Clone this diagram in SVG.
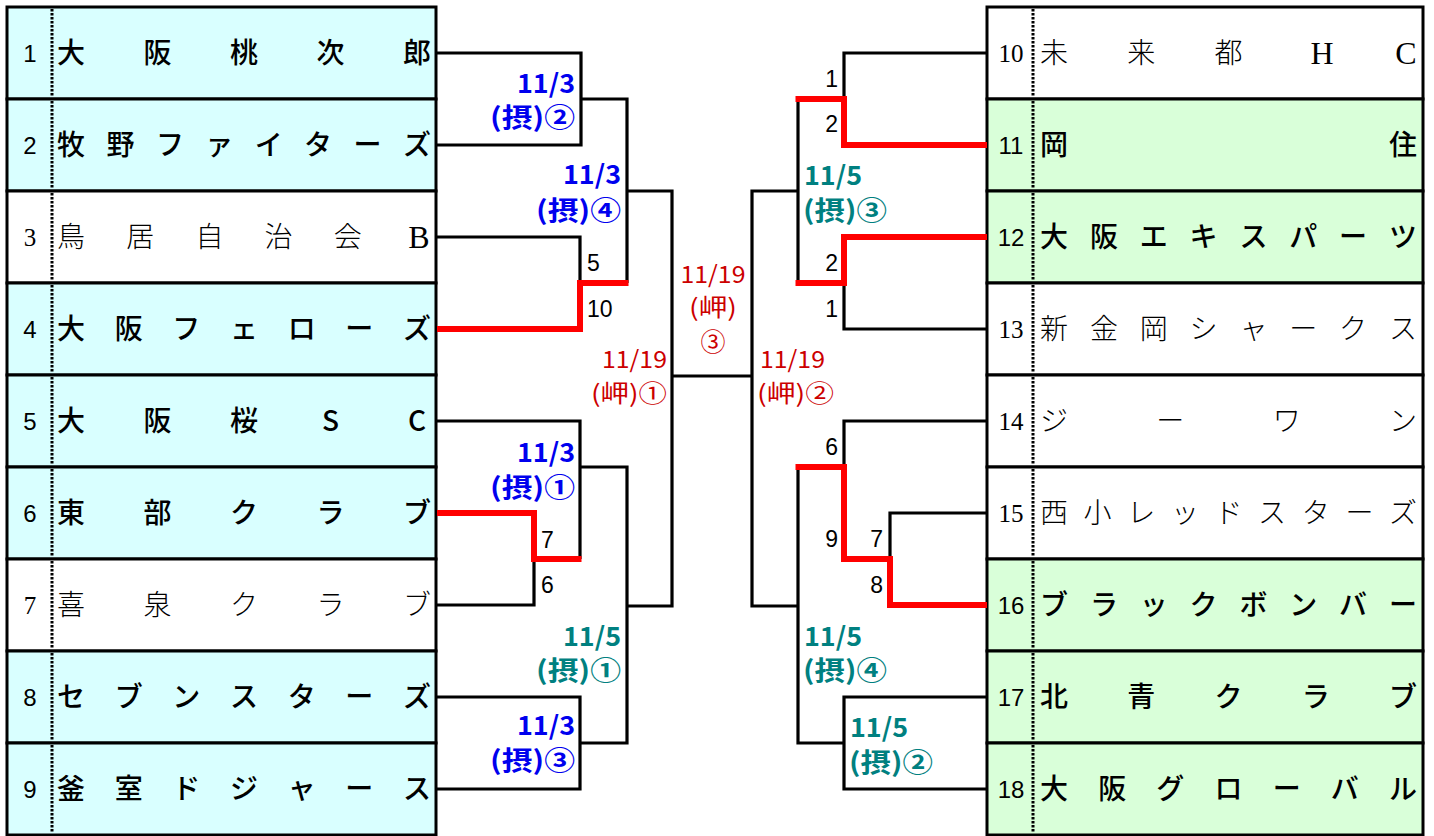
<svg xmlns="http://www.w3.org/2000/svg" width="1434" height="836" viewBox="0 0 1434 836">
<style>
.bg{fill:#ffffff}
.cell{stroke:#000;stroke-width:3}
.cy{fill:#D9FFFF}
.gr{fill:#D9FFD9}
.wh{fill:#ffffff}
.dash{stroke:#000;stroke-width:3;stroke-dasharray:2.5 1.5}
.ng{font-family:"Liberation Sans","Noto Sans CJK JP",sans-serif;font-size:24px;fill:#000;text-anchor:middle}
.nm{font-family:"Liberation Serif","Noto Sans CJK JP",serif;font-size:25px;fill:#000;text-anchor:middle}
.tg{font-family:"Noto Sans CJK JP",sans-serif;font-size:28px;font-weight:500;fill:#000;text-anchor:middle}
.tm{font-family:"Liberation Serif","Noto Sans CJK JP",serif;font-size:28px;font-weight:300;fill:#000;text-anchor:middle}
.lat{font-size:32px;font-weight:400}
.ln{fill:none;stroke:#000;stroke-width:3.2;stroke-linejoin:miter}
.win{fill:none;stroke:#FF0000;stroke-width:6;stroke-linejoin:miter}
.lb{font-family:"Noto Sans CJK JP",sans-serif;font-size:26px;font-weight:700;fill:#0000EE}
.lt{font-family:"Noto Sans CJK JP",sans-serif;font-size:26px;font-weight:700;fill:#008080}
.lr{font-family:"Noto Sans CJK JP",sans-serif;font-size:24px;font-weight:400;fill:#CC0000}
.sc{font-family:"Liberation Sans","Noto Sans CJK JP",sans-serif;font-size:23px;fill:#000}
</style>
<rect class="bg" x="0" y="0" width="1434" height="836"/>

<!-- Left teams -->
<g id="team-1"><rect class="cell cy" x="7" y="7" width="429" height="92"/><line class="dash" x1="52" y1="9" x2="52" y2="97"/><text class="ng" x="30" y="62">1</text><text class="tg" x="71 157.5 244 330.5 417" y="63">大阪桃次郎</text></g>
<g id="team-2"><rect class="cell cy" x="7" y="99" width="429" height="92"/><line class="dash" x1="52" y1="101" x2="52" y2="189"/><text class="ng" x="30" y="154">2</text><text class="tg" x="71 120.4 169.9 219.3 268.7 318.1 367.6 417" y="155">牧野ファイターズ</text></g>
<g id="team-3"><rect class="cell wh" x="7" y="191" width="429" height="92"/><line class="dash" x1="52" y1="193" x2="52" y2="281"/><text class="nm" x="30" y="246">3</text><text class="tm" x="71 140.2 209.4 278.6 347.8" y="247">鳥居自治会</text><text class="tm lat" x="419" y="248">B</text></g>
<g id="team-4"><rect class="cell cy" x="7" y="283" width="429" height="92"/><line class="dash" x1="52" y1="285" x2="52" y2="373"/><text class="ng" x="30" y="338">4</text><text class="tg" x="71 128.7 186.3 244 301.7 359.3 417" y="339">大阪フェローズ</text></g>
<g id="team-5"><rect class="cell cy" x="7" y="375" width="429" height="92"/><line class="dash" x1="52" y1="377" x2="52" y2="465"/><text class="ng" x="30" y="430">5</text><text class="tg" x="71 157.5 244 330.5 417" y="431">大阪桜SC</text></g>
<g id="team-6"><rect class="cell cy" x="7" y="467" width="429" height="92"/><line class="dash" x1="52" y1="469" x2="52" y2="557"/><text class="ng" x="30" y="522">6</text><text class="tg" x="71 157.5 244 330.5 417" y="523">東部クラブ</text></g>
<g id="team-7"><rect class="cell wh" x="7" y="559" width="429" height="92"/><line class="dash" x1="52" y1="561" x2="52" y2="649"/><text class="nm" x="30" y="614">7</text><text class="tm" x="71 157.5 244 330.5 417" y="615">喜泉クラブ</text></g>
<g id="team-8"><rect class="cell cy" x="7" y="651" width="429" height="92"/><line class="dash" x1="52" y1="653" x2="52" y2="741"/><text class="ng" x="30" y="706">8</text><text class="tg" x="71 128.7 186.3 244 301.7 359.3 417" y="707">セブンスターズ</text></g>
<g id="team-9"><rect class="cell cy" x="7" y="743" width="429" height="92"/><line class="dash" x1="52" y1="745" x2="52" y2="833"/><text class="ng" x="30" y="798">9</text><text class="tg" x="71 128.7 186.3 244 301.7 359.3 417" y="799">釜室ドジャース</text></g>

<!-- Right teams -->
<g id="team-10"><rect class="cell wh" x="987" y="7" width="436" height="92"/><line class="dash" x1="1033" y1="9" x2="1033" y2="97"/><text class="nm" x="1011" y="62">10</text><text class="tm" x="1054 1141.25 1228.5" y="63">未来都</text><text class="tm lat" x="1322 1406" y="64">HC</text></g>
<g id="team-11"><rect class="cell gr" x="987" y="99" width="436" height="92"/><line class="dash" x1="1033" y1="101" x2="1033" y2="189"/><text class="ng" x="1011" y="154">11</text><text class="tg" x="1054 1403" y="155">岡住</text></g>
<g id="team-12"><rect class="cell gr" x="987" y="191" width="436" height="92"/><line class="dash" x1="1033" y1="193" x2="1033" y2="281"/><text class="ng" x="1011" y="246">12</text><text class="tg" x="1054 1103.9 1153.7 1203.6 1253.4 1303.3 1353.1 1403" y="247">大阪エキスパーツ</text></g>
<g id="team-13"><rect class="cell wh" x="987" y="283" width="436" height="92"/><line class="dash" x1="1033" y1="285" x2="1033" y2="373"/><text class="nm" x="1011" y="338">13</text><text class="tm" x="1054 1103.9 1153.7 1203.6 1253.4 1303.3 1353.1 1403" y="339">新金岡シャークス</text></g>
<g id="team-14"><rect class="cell wh" x="987" y="375" width="436" height="92"/><line class="dash" x1="1033" y1="377" x2="1033" y2="465"/><text class="nm" x="1011" y="430">14</text><text class="tm" x="1054 1170.3 1286.7 1403" y="431">ジーワン</text></g>
<g id="team-15"><rect class="cell wh" x="987" y="467" width="436" height="92"/><line class="dash" x1="1033" y1="469" x2="1033" y2="557"/><text class="nm" x="1011" y="522">15</text><text class="tm" x="1054 1097.6 1141.25 1184.9 1228.5 1272.1 1315.75 1359.4 1403" y="523">西小レッドスターズ</text></g>
<g id="team-16"><rect class="cell gr" x="987" y="559" width="436" height="92"/><line class="dash" x1="1033" y1="561" x2="1033" y2="649"/><text class="ng" x="1011" y="614">16</text><text class="tg" x="1054 1103.9 1153.7 1203.6 1253.4 1303.3 1353.1 1403" y="615">ブラックボンバー</text></g>
<g id="team-17"><rect class="cell gr" x="987" y="651" width="436" height="92"/><line class="dash" x1="1033" y1="653" x2="1033" y2="741"/><text class="ng" x="1011" y="706">17</text><text class="tg" x="1054 1141.25 1228.5 1315.75 1403" y="707">北青クラブ</text></g>
<g id="team-18"><rect class="cell gr" x="987" y="743" width="436" height="92"/><line class="dash" x1="1033" y1="745" x2="1033" y2="833"/><text class="ng" x="1011" y="798">18</text><text class="tg" x="1054 1112.2 1170.3 1228.5 1286.7 1344.8 1403" y="799">大阪グローバル</text></g>

<!-- Connectors -->
<g id="connectors">
<path class="ln" d="M437,53 H581 V145 H437"/>
<path class="ln" d="M581,99 H627 V283"/>
<path class="ln" d="M437,237 H580 V283"/>
<path class="ln" d="M627,191 H672 V606 H627"/>
<path class="ln" d="M437,421 H580 V559"/>
<path class="ln" d="M580,467 H627 V743 H580"/>
<path class="ln" d="M437,605 H534 V559"/>
<path class="ln" d="M437,697 H580 V789 H437"/>
<path class="ln" d="M672,376 H752"/>
<path class="ln" d="M798,191 H752 V606 H798"/>
<path class="ln" d="M987,53 H844 V99"/>
<path class="ln" d="M798,99 V283"/>
<path class="ln" d="M987,329 H844 V283"/>
<path class="ln" d="M987,421 H844 V467"/>
<path class="ln" d="M987,513 H890 V559"/>
<path class="ln" d="M798,467 V743 H844"/>
<path class="ln" d="M987,697 H844 V789 H987"/>
<path class="win" d="M437,329 H580 V283 H628.5"/>
<path class="win" d="M437,513 H534 V559 H581.5"/>
<path class="win" d="M795.5,99 H844 V145 H987"/>
<path class="win" d="M795.5,283 H844 V237 H987"/>
<path class="win" d="M795.5,467 H844 V559 H890 V605 H987"/>
</g>

<!-- Match labels -->
<g id="labels">
<text class="lb" x="575" y="93" text-anchor="end" textLength="58" lengthAdjust="spacingAndGlyphs">11/3</text>
<text class="lb" x="575" y="127" text-anchor="end" textLength="85" lengthAdjust="spacingAndGlyphs">(摂)②</text>
<text class="lb" x="621" y="184" text-anchor="end" textLength="58" lengthAdjust="spacingAndGlyphs">11/3</text>
<text class="lb" x="621" y="220" text-anchor="end" textLength="85" lengthAdjust="spacingAndGlyphs">(摂)④</text>
<text class="lb" x="575" y="462" text-anchor="end" textLength="58" lengthAdjust="spacingAndGlyphs">11/3</text>
<text class="lb" x="575" y="497" text-anchor="end" textLength="85" lengthAdjust="spacingAndGlyphs">(摂)①</text>
<text class="lt" x="621" y="646" text-anchor="end" textLength="58" lengthAdjust="spacingAndGlyphs">11/5</text>
<text class="lt" x="621" y="680" text-anchor="end" textLength="85" lengthAdjust="spacingAndGlyphs">(摂)①</text>
<text class="lb" x="575" y="735" text-anchor="end" textLength="58" lengthAdjust="spacingAndGlyphs">11/3</text>
<text class="lb" x="575" y="770" text-anchor="end" textLength="85" lengthAdjust="spacingAndGlyphs">(摂)③</text>
<text class="lt" x="804" y="185" textLength="58" lengthAdjust="spacingAndGlyphs">11/5</text>
<text class="lt" x="803" y="220" textLength="84" lengthAdjust="spacingAndGlyphs">(摂)③</text>
<text class="lt" x="804" y="646" textLength="58" lengthAdjust="spacingAndGlyphs">11/5</text>
<text class="lt" x="803" y="680" textLength="84" lengthAdjust="spacingAndGlyphs">(摂)④</text>
<text class="lt" x="850" y="737" textLength="58" lengthAdjust="spacingAndGlyphs">11/5</text>
<text class="lt" x="849" y="772" textLength="84" lengthAdjust="spacingAndGlyphs">(摂)②</text>
<text class="lr" x="713" y="283" text-anchor="middle" textLength="65" lengthAdjust="spacingAndGlyphs">11/19</text>
<text class="lr" x="713" y="316" text-anchor="middle" textLength="48" lengthAdjust="spacingAndGlyphs">(岬)</text>
<text class="lr" x="713" y="351" text-anchor="middle" style="font-size:25px">③</text>
<text class="lr" x="667" y="368" text-anchor="end" textLength="65" lengthAdjust="spacingAndGlyphs">11/19</text>
<text class="lr" x="667" y="402" text-anchor="end" textLength="76" lengthAdjust="spacingAndGlyphs">(岬)①</text>
<text class="lr" x="760" y="368" textLength="65" lengthAdjust="spacingAndGlyphs">11/19</text>
<text class="lr" x="757" y="402" textLength="77" lengthAdjust="spacingAndGlyphs">(岬)②</text>
</g>

<!-- Scores -->
<g id="scores">
<text class="sc" x="587" y="271">5</text>
<text class="sc" x="587" y="317">10</text>
<text class="sc" x="541" y="548">7</text>
<text class="sc" x="541" y="593">6</text>
<text class="sc" x="838" y="87" text-anchor="end">1</text>
<text class="sc" x="838" y="132" text-anchor="end">2</text>
<text class="sc" x="838" y="271" text-anchor="end">2</text>
<text class="sc" x="838" y="317" text-anchor="end">1</text>
<text class="sc" x="838" y="455" text-anchor="end">6</text>
<text class="sc" x="838" y="547" text-anchor="end">9</text>
<text class="sc" x="883" y="547" text-anchor="end">7</text>
<text class="sc" x="883" y="593" text-anchor="end">8</text>
</g>
</svg>
